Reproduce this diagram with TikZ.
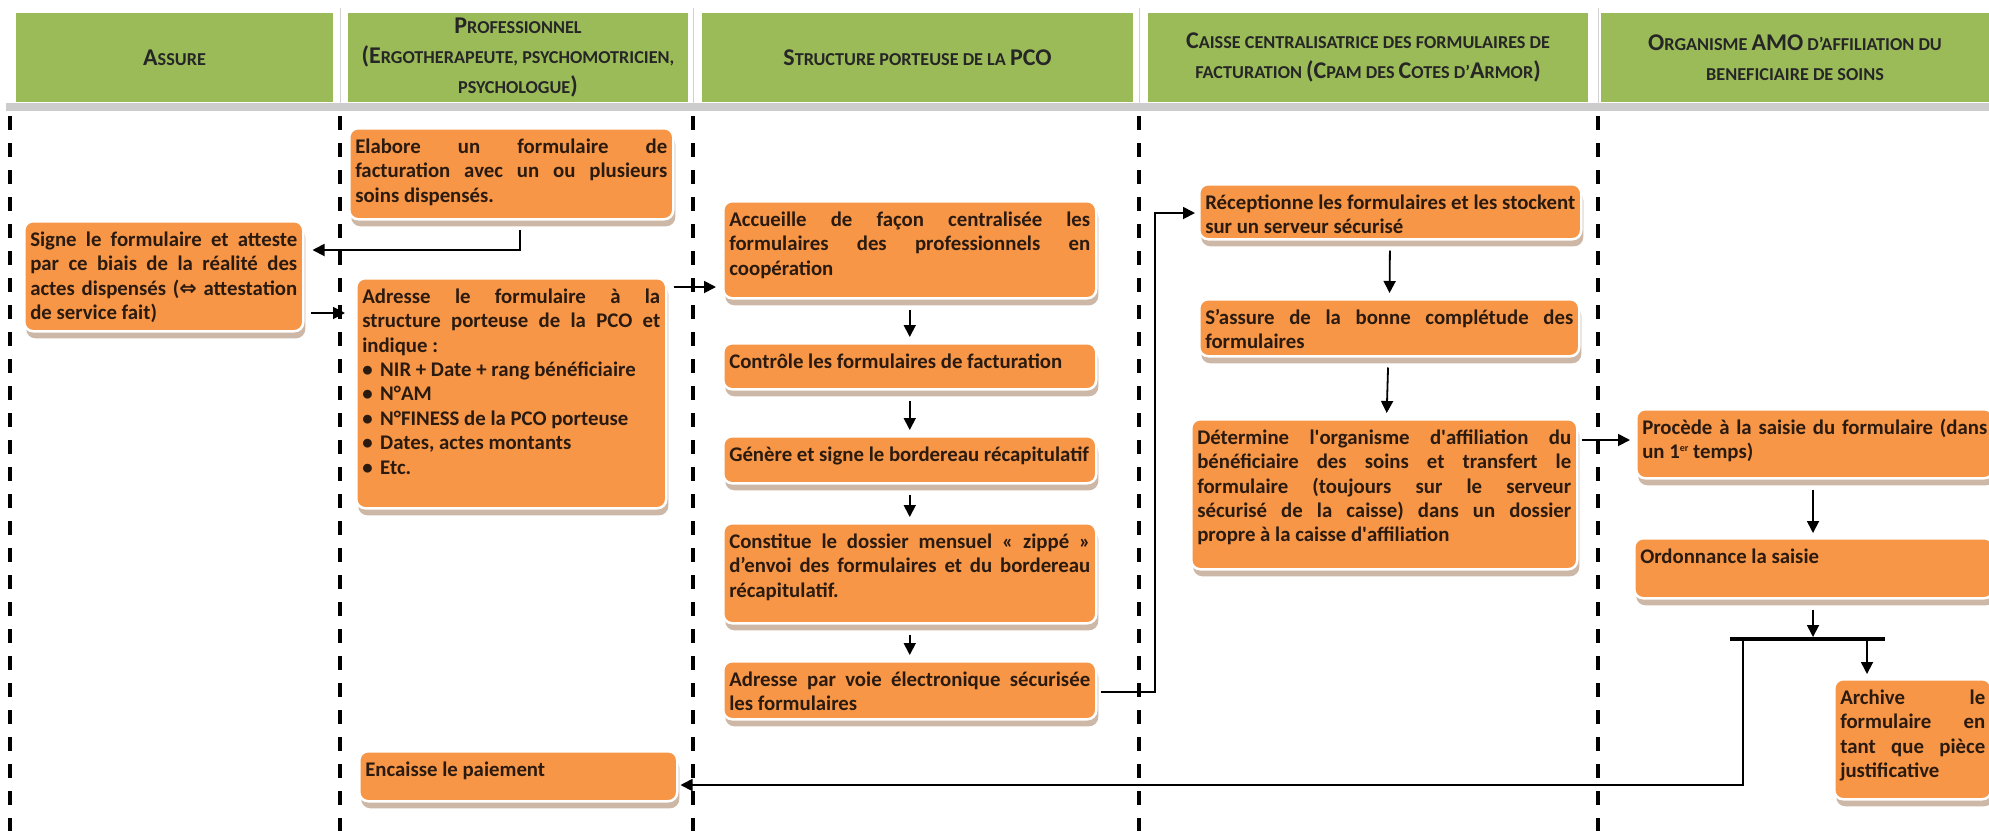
\documentclass[tikz,border=0pt]{standalone}
\usepackage{fontspec}
\setmainfont{Carlito}
\newfontfamily\dvfont{DejaVu Sans}
\usetikzlibrary{shadows,arrows.meta}

\definecolor{hdrgreen}{HTML}{9BBB59}
\definecolor{boxorange}{HTML}{F79646}
\definecolor{boxshadow}{HTML}{CDB8A8}
\definecolor{inktext}{HTML}{2A1A10}

\hyphenpenalty=10000
\exhyphenpenalty=10000

% body text of the task boxes
\newcommand\bodyf{\fontsize{20.8}{24.4}\selectfont\bfseries}
% header text: small letters of the small caps, and full capitals
\newcommand\hsm{\fontsize{18.2}{30}\selectfont\bfseries}
\newcommand\hbig[1]{{\fontsize{24}{30}\selectfont #1}}
% top-aligned justified block of given width and height (pt)
\newcommand\bt[3]{\parbox[t][#2pt][t]{#1pt}{\strut#3}}
\newcommand\bul{\makebox[18pt][l]{•}}
\newcommand\apos{\textquotesingle}
\newcommand\supsmall[1]{\raisebox{0.75ex}{\fontsize{10}{10}\selectfont #1}}

\begin{document}
\begin{tikzpicture}[x=1pt, y=-1pt,
  box/.style={draw=white, line width=2.5pt, fill=boxorange, rounded corners=9pt,
    inner xsep=6pt, inner ysep=8pt, anchor=north west, text=inktext, font=\bodyf,
    drop shadow={shadow xshift=2pt, shadow yshift=-7pt, fill=boxshadow, opacity=1}},
  hdr/.style={fill=hdrgreen, draw=none, text=black!85, align=center, font=\hsm,
    inner sep=0pt, minimum height=89pt},
  arr/.style={draw=black, line width=1.8pt, -{Triangle[length=12pt,width=12pt]}},
  lane/.style={draw=black, line width=3.5pt, dash pattern=on 14pt off 13pt},
  forkbar/.style={draw=black, line width=4pt}]

\useasboundingbox (0,0) rectangle (1989,831);

% ---------- header row ----------
\fill[gray!40] (6,103) rectangle (1989,111);
\foreach \x in {340,693,1139,1598}
  \draw[gray!35, line width=1pt] (\x,8) -- (\x,104);

\node[hdr, minimum width=317pt] (hA) at (174.5,57.5) {\hbig{A}SSURE};
\node[hdr, minimum width=340pt] (hP) at (518,57.5)
  {\hbig{P}ROFESSIONNEL\\\hbig{(E}RGOTHERAPEUTE, PSYCHOMOTRICIEN,\\PSYCHOLOGUE\hbig{)}};
\node[hdr, minimum width=431pt] (hS) at (917.5,57.5)
  {\hbig{S}TRUCTURE PORTEUSE DE LA \hbig{PCO}};
\node[hdr, minimum width=440pt] (hC) at (1368,57.5)
  {\hbig{C}AISSE CENTRALISATRICE DES FORMULAIRES DE\\FACTURATION \hbig{(C}PAM DES \hbig{C}OTES D’\hbig{A}RMOR\hbig{)}};
\node[hdr, minimum width=388pt] (hO) at (1795,57.5)
  {\hbig{O}RGANISME \hbig{AMO} D’AFFILIATION DU\\BENEFICIAIRE DE SOINS};

% ---------- swimlane separators ----------
\foreach \x in {10,340,693,1139,1598}
  \draw[lane] (\x,116) -- (\x,831);

% ---------- task boxes ----------
\node[box] (elab) at (348,127) {\bt{312}{75}{Elabore un formulaire de\linebreak
  facturation avec un ou plusieurs\linebreak soins dispensés.}};
\node[box] (signe) at (23,220) {\bt{267}{94}{Signe le formulaire et atteste\linebreak
  par ce biais de la réalité des\linebreak actes dispensés ({\dvfont\bfseries ⇔} attestation\linebreak
  de service fait)}};
\node[box] (adr) at (355,277) {\bt{298}{214}{Adresse le formulaire à la\linebreak
  structure porteuse de la PCO et\linebreak indique~:\\
  \bul NIR + Date + rang bénéficiaire\\
  \bul N°AM\\
  \bul N°FINESS de la PCO porteuse\\
  \bul Dates, actes montants\\
  \bul Etc.}};
\node[box] (enc) at (358,750) {\bt{306}{34}{Encaisse le paiement}};

\node[box] (acc) at (722,200) {\bt{361}{81}{Accueille de façon centralisée les\linebreak
  formulaires des professionnels en\linebreak coopération}};
\node[box] (ctrl) at (722,342) {\bt{361}{30}{Contrôle les formulaires de facturation}};
\node[box] (gen) at (722,435) {\bt{361}{31}{Génère et signe le bordereau récapitulatif}};
\node[box] (const) at (722,522) {\bt{361}{84}{Constitue le dossier mensuel «~zippé~»\linebreak
  d’envoi des formulaires et du bordereau\linebreak récapitulatif.}};
\node[box] (voie) at (722,660) {\bt{361}{42}{Adresse par voie électronique sécurisée\linebreak
  les formulaires}};

\node[box] (recep) at (1198,183) {\bt{370}{39}{Réceptionne les formulaires et les stockent\linebreak
  sur un serveur sécurisé}};
\node[box] (sass) at (1198,298) {\bt{368}{41}{S’assure de la bonne complétude des\linebreak
  formulaires}};
\node[box] (det) at (1190,418) {\bt{374}{134}{Détermine l\apos organisme d\apos affiliation du\linebreak
  bénéficiaire des soins et transfert le\linebreak formulaire (toujours sur le serveur\linebreak
  sécurisé de la caisse) dans un dossier\linebreak propre à la caisse d\apos affiliation}};

\node[box] (proc) at (1635,408) {\bt{345}{53}{Procède à la saisie du formulaire (dans\linebreak
  un 1\supsmall{er} temps)}};
\node[box] (ordo) at (1633,537) {\bt{347}{44}{Ordonnance la saisie}};
\node[box] (arch) at (1833,678) {\bt{145}{104}{Archive le\linebreak formulaire en\linebreak
  tant que pièce\linebreak justificative}};

% ---------- connectors ----------
\coordinate (e1) at (520,250);
\draw[arr, shorten <=9pt, shorten >=8pt] (e1 |- elab.south) -- (e1) -- (e1 -| signe.east);
\draw[arr, shorten <=6pt, shorten >=10pt] (signe.east |- 0,313) -- (adr.west |- 0,313);
\draw[arr, shorten <=6pt, shorten >=6pt] (adr.east |- 0,287) -- (acc.west |- 0,287);

\draw[arr, shorten <=10pt, shorten >=5pt] (acc) -- (ctrl);
\draw[arr, shorten <=10pt, shorten >=5pt] (ctrl) -- (gen);
\draw[arr, shorten <=10pt, shorten >=5pt] (gen) -- (const);
\draw[arr, shorten <=10pt, shorten >=5pt] (const.south) -- (voie.north);

\coordinate (v1) at (1155,692);
\coordinate (v2) at (1155,213);
\draw[arr, shorten <=3pt, shorten >=3pt] (voie.east |- v1) -- (v1) -- (v2) -- (v2 -| recep.west);

\draw[arr, shorten <=10pt, shorten >=5pt] (recep) -- (sass);
\draw[arr, shorten <=10pt, shorten >=5pt] (sass) -- (det);
\draw[arr, shorten <=3pt, shorten >=5pt] (det.east |- 0,440) -- (proc.west |- 0,440);
\draw[arr, shorten <=10pt, shorten >=4pt] (proc.south -| 1813,0) -- (ordo.north -| 1813,0);

% fork under "Ordonnance la saisie"
\coordinate (barL) at (1730,639);
\coordinate (barR) at (1885,639);
\coordinate (o1) at (1813,637);
\coordinate (a1) at (1867,641);
\coordinate (r1) at (1743,641);
\coordinate (r2) at (1743,785);
\draw[forkbar] (barL) -- (barR);
\draw[arr, shorten <=10pt] (ordo.south -| o1) -- (o1);
\draw[arr, shorten >=4pt] (a1) -- (a1 |- arch.north);
\draw[arr, shorten >=2pt] (r1) -- (r2) -- (r2 -| enc.east);

\end{tikzpicture}
\end{document}
